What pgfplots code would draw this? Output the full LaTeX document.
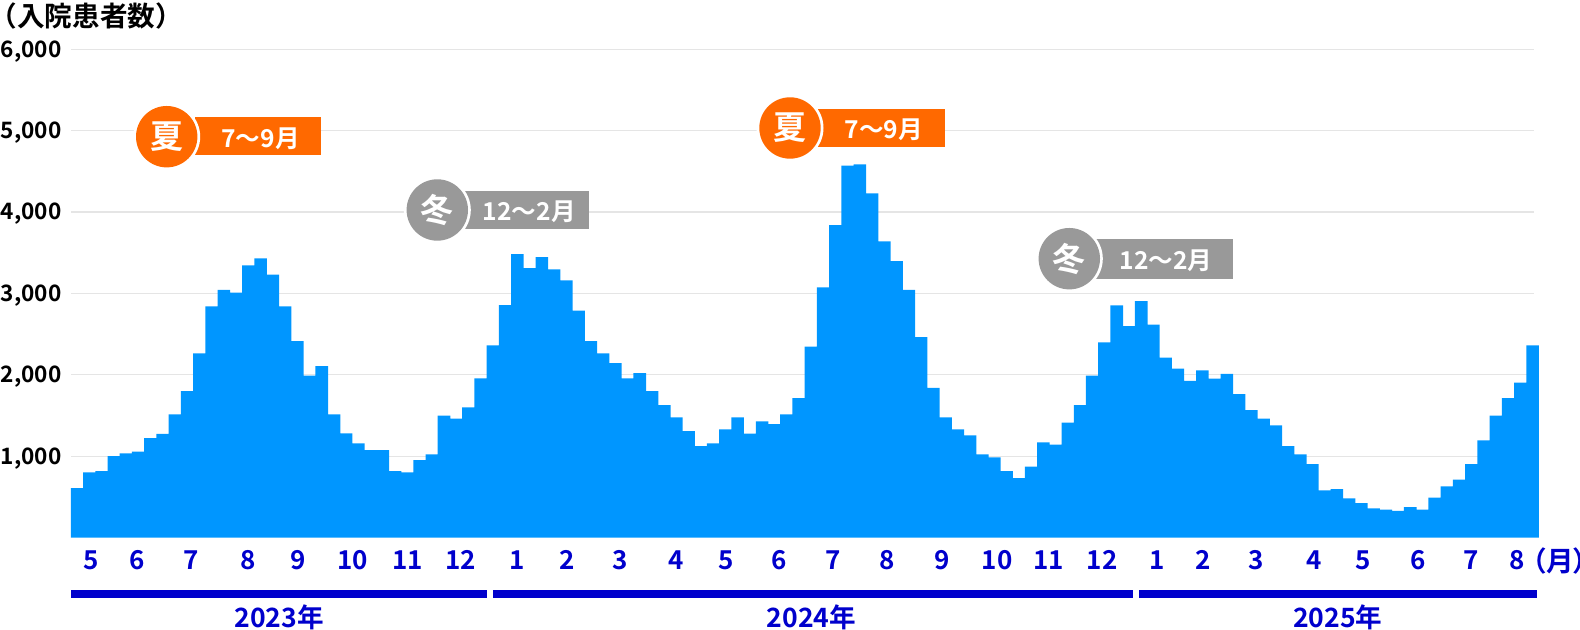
\documentclass[border=0pt]{standalone}
\usepackage{fontspec}
\setmainfont{Noto Sans CJK JP}[BoldFont=* Bold]
\newfontface\paltbold{Noto Sans CJK JP Bold}[RawFeature=+palt]
\usepackage{pgfplots}
\pgfplotsset{compat=1.18}
\usepackage{pgfplotstable}
\definecolor{barblue}{HTML}{0096FF}
\definecolor{yearblue}{HTML}{0000CC}
\definecolor{orng}{HTML}{FF6900}
\definecolor{gry}{HTML}{999999}
\definecolor{gridc}{HTML}{E5E5E5}
\pgfplotstableread{
w v
0.5 610
1.5 803
2.5 819
3.5 1003
4.5 1036
5.5 1056
6.5 1224
7.5 1274
8.5 1515
9.5 1802
10.5 2265
11.5 2842
12.5 3043
13.5 3010
14.5 3346
15.5 3432
16.5 3231
17.5 2842
18.5 2416
19.5 1990
20.5 2109
21.5 1515
22.5 1282
23.5 1159
24.5 1077
25.5 1077
26.5 819
27.5 803
28.5 954
29.5 1024
30.5 1499
31.5 1462
32.5 1601
33.5 1957
34.5 2363
35.5 2858
36.5 3485
37.5 3313
38.5 3448
39.5 3296
40.5 3161
41.5 2789
42.5 2414
43.5 2265
44.5 2146
45.5 1957
46.5 2023
47.5 1802
48.5 1630
49.5 1478
50.5 1310
51.5 1126
52.5 1159
53.5 1331
54.5 1478
55.5 1278
56.5 1429
57.5 1396
58.5 1515
59.5 1716
60.5 2346
61.5 3075
62.5 3841
63.5 4570
64.5 4586
65.5 4230
66.5 3640
67.5 3399
68.5 3043
69.5 2465
70.5 1839
71.5 1478
72.5 1331
73.5 1257
74.5 1024
75.5 987
76.5 819
77.5 733
78.5 872
79.5 1171
80.5 1142
81.5 1413
82.5 1630
83.5 1990
84.5 2400
85.5 2854
86.5 2600
87.5 2907
88.5 2617
89.5 2211
90.5 2076
91.5 1925
92.5 2056
93.5 1953
94.5 2011
95.5 1765
96.5 1568
97.5 1462
98.5 1380
99.5 1126
100.5 1024
101.5 905
102.5 581
103.5 598
104.5 483
105.5 426
106.5 360
107.5 344
108.5 328
109.5 377
110.5 344
111.5 491
112.5 631
113.5 713
114.5 905
115.5 1196
116.5 1499
117.5 1716
118.5 1904
119.5 2363
}\admissions
\newcommand{\fs}[1]{\fontsize{#1}{#1}\selectfont}
\begin{document}
\begin{tikzpicture}[x=0.5pt,y=-0.5pt,yshift=315pt]
\useasboundingbox (0,0) rectangle (1580,630);
\begin{axis}[
  at={(35.5pt,-268.85pt)}, anchor=south west,
  scale only axis,
  width=731.25pt, height=244.2pt,
  xmin=0, xmax=119.575, ymin=0, ymax=6000,
  clip=false,
  axis line style={draw=none},
  tick style={draw=none},
  ymajorgrids,
  grid style={gridc, line width=0.6pt},
  ytick={1000,2000,3000,4000,5000,6000},
  /pgf/number format/assume math mode=true,
  /pgf/number format/1000 sep={,},
  yticklabel style={font=\fs{11.3}\bfseries, text=black, xshift=-4.5pt, yshift=-1pt, inner sep=0pt, anchor=east},
  xtick={1.66,5.39,9.79,14.48,18.58,23.02,27.50,31.84,36.46,40.55,44.90,49.45,53.57,57.89,62.30,66.73,71.21,75.71,79.96,84.30,88.78,92.60,96.94,101.66,105.64,110.12,114.48,118.25},
  xticklabels={5,6,7,8,9,10,11,12,1,2,3,4,5,6,7,8,9,10,11,12,1,2,3,4,5,6,7,8},
  xticklabel style={font=\fs{13}\bfseries, text=yearblue, inner sep=0pt, anchor=base, yshift=-16pt},
]
\addplot[ybar, bar width=1.03, bar shift=0pt, fill=barblue, draw=none] table[x=w,y=v] {\admissions};
\end{axis}
% heading
\node[font=\fs{13.8}\bfseries, text=black, anchor=west, inner sep=0pt] at (0,16.5) {\kern-5.3pt（入院患者数）};
\node[font=\fs{13.8}\paltbold, text=yearblue, anchor=east, inner sep=0pt] at (1580,561) {（月）\kern-4pt};
% year bars
\fill[yearblue] (71,590) rectangle (487.3,598);
\fill[yearblue] (493,590) rectangle (1133.2,598);
\fill[yearblue] (1138.9,590) rectangle (1537.3,598);
\node[font=\fs{13.3}\bfseries, text=yearblue] at (279.2,617.7) {2023年};
\node[font=\fs{13.3}\bfseries, text=yearblue] at (811.4,617.7) {2024年};
\node[font=\fs{13.3}\bfseries, text=yearblue] at (1337.7,617.7) {2025年};
% badges
\newcommand{\badge}[9]{%
  \fill[#1] (#2,#4) rectangle (#3,#5);
  \fill[white] (#6,#7) circle[radius=33.5];
  \fill[#1] (#6,#7) circle[radius=30.7];
  \node[font=\fs{16.5}\bfseries, text=white, inner sep=0pt] at (#6,#7) {#8};
  #9}
\badge{orng}{195}{321.3}{117.3}{155.3}{166.7}{136.7}{夏}{\node[font=\fs{12.3}\bfseries, text=white, inner sep=0pt] at (260.5,138.5) {7〜9月};}
\badge{gry}{465}{589.3}{190.7}{228.7}{437.3}{210}{冬}{\node[font=\fs{12.3}\bfseries, text=white, inner sep=0pt] at (529.3,211.5) {12〜2月};}
\badge{orng}{815}{945}{109}{147}{790}{128}{夏}{\node[font=\fs{12.3}\bfseries, text=white, inner sep=0pt] at (883.7,130) {7〜9月};}
\badge{gry}{1095}{1232.7}{238.7}{279}{1069.3}{258.7}{冬}{\node[font=\fs{12.3}\bfseries, text=white, inner sep=0pt] at (1166,261) {12〜2月};}
\end{tikzpicture}
\end{document}
